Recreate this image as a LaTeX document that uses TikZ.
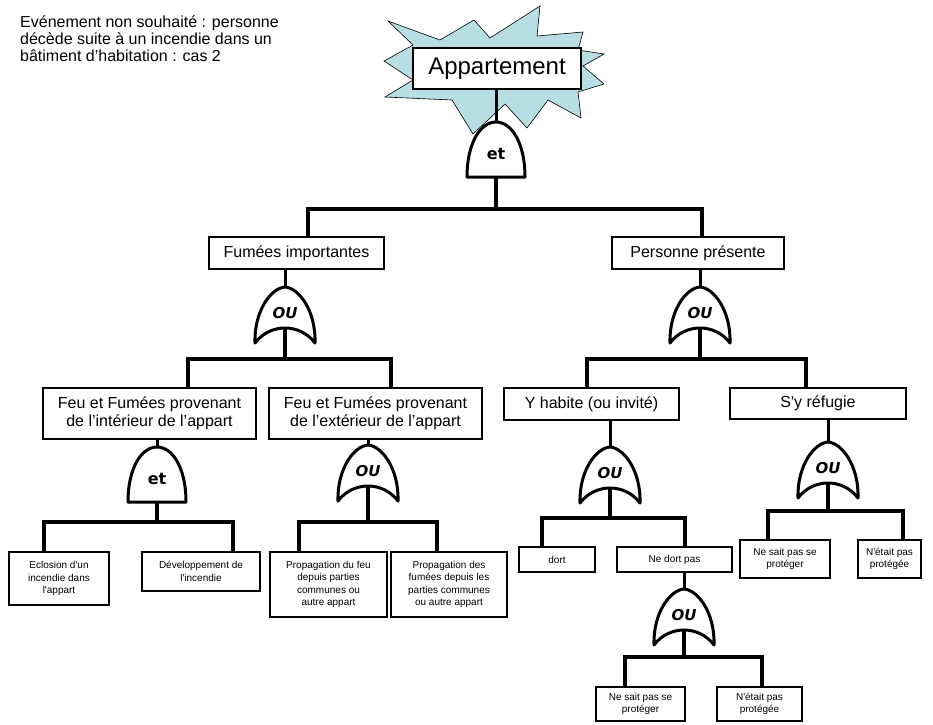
\documentclass[tikz,border=0pt]{standalone}
\usepackage{fontspec}
\setmainfont{Liberation Sans}
\newfontfamily\gatefont{DejaVu Sans}
\definecolor{burst}{RGB}{183,223,227}
\newcommand\apos{\textquotesingle}
\tikzset{
  box/.style={draw, line width=2pt, fill=white, align=center, inner sep=0pt,
              font=\fontsize{16}{18}\selectfont},
  leaf/.style={box, line width=1.8pt, font=\fontsize{10}{12.5}\selectfont},
  bus/.style={line width=4.8pt, line join=miter},
  link/.style={line width=3pt},
  gate/.style={draw, line width=3pt, fill=white, line join=round, line cap=round},
  gatetxt/.style={inner sep=0pt, font=\fontsize{15}{15}\selectfont\gatefont\bfseries\itshape},
  andtxt/.style={inner sep=0pt, font=\fontsize{16}{16}\selectfont\gatefont\bfseries},
  orgate/.pic={
    \path[gate] (-30,56) .. controls (-31,24) and (-14,1) .. (0,0)
                .. controls (14,1) and (31,24) .. (30,56)
                .. controls (15,36) and (-15,36) .. cycle;
    \node[gatetxt] at (0,26) {OU};
    \coordinate (-top) at (0,0);
    \coordinate (-out) at (0,41);
  },
  andgate/.pic={
    \path[gate] (-29,55) .. controls (-29,20) and (-15,0) .. (0,0)
                .. controls (15,0) and (29,20) .. (29,55) -- cycle;
    \node[andtxt] at (0,32) {et};
    \coordinate (-top) at (0,0);
    \coordinate (-out) at (0,55);
  }
}
\begin{document}
\begin{tikzpicture}[x=1pt,y=-1pt]
\useasboundingbox (0,0) rectangle (933,724);

% title of the undesired event
\node[anchor=north west, inner sep=0pt, align=left, font=\fontsize{16}{17}\selectfont]
  (titre) at (20,16) {Evénement non souhaité : personne\\décède suite à un incendie dans un\\bâtiment d’habitation : cas 2};

% starburst behind the top event
\path[draw=black, line width=0.6pt, fill=burst]
  (388,21) -- (440,40) -- (474,20) -- (490,38) -- (540,6) -- (537,36) -- (583,32)
  -- (578,50) -- (604,54) -- (583,66) -- (604,84) -- (578,92) -- (581,118)
  -- (548,100) -- (527,128) -- (505,104) -- (473,134) -- (452,100) -- (385,97)
  -- (413,80) -- (384,61) -- (413,45) -- cycle;

% events
\node[box, line width=2.4pt, minimum width=168, minimum height=41, font=\fontsize{24}{26}\selectfont] (appart) at (497,68.5) {Appartement};
\node[box, minimum width=175, minimum height=32] (fumees) at (296.5,253) {Fumées importantes};
\node[box, minimum width=172, minimum height=32] (personne) at (698,253) {Personne présente};
\node[box, minimum width=213, minimum height=51] (feuint) at (149.5,413.5) {Feu et Fumées provenant\\de l’intérieur de l’appart};
\node[box, minimum width=213, minimum height=51] (feuext) at (375.5,413.5) {Feu et Fumées provenant\\de l’extérieur de l’appart};
\node[box, minimum width=175, minimum height=32] (habite) at (591.5,404) {Y habite (ou invité)};
\node[box, minimum width=176, minimum height=31] (refugie) at (818,403.5) {S\apos y réfugie};
\node[leaf, minimum width=100, minimum height=53] (eclosion) at (59,578.5) {Eclosion d\apos un\\incendie dans\\l\apos appart};
\node[leaf, minimum width=118, minimum height=39] (develop) at (201,571.5) {Développement de\\l\apos incendie};
\node[leaf, minimum width=117, minimum height=65] (propfeu) at (328.5,584.5) {Propagation du feu\\depuis parties\\communes ou\\autre appart};
\node[leaf, minimum width=116, minimum height=65] (propfum) at (449,584.5) {Propagation des\\fumées depuis les\\parties communes\\ou autre appart};
\node[leaf, minimum width=76, minimum height=25] (dort) at (557,559.5) {dort};
\node[leaf, minimum width=115, minimum height=25] (nedort) at (674.5,559.5) {Ne dort pas};
\node[leaf, minimum width=90, minimum height=38] (nesaitA) at (785,559) {Ne sait pas se\\protéger};
\node[leaf, minimum width=63, minimum height=38] (netaitA) at (889.5,559) {N\apos était pas\\protégée};
\node[leaf, minimum width=89, minimum height=34] (nesaitB) at (640.5,704) {Ne sait pas se\\protéger};
\node[leaf, minimum width=85, minimum height=34] (netaitB) at (759.5,704) {N\apos était pas\\protégée};

% links from events down to their gates
\coordinate (t0) at (496,122);
\coordinate (t1) at (285,287);
\coordinate (t2) at (700,287);
\coordinate (t3) at (157,447);
\coordinate (t4) at (368,445);
\coordinate (t5) at (610,447);
\coordinate (t6) at (828,442);
\coordinate (t7) at (684,589);
\draw[link] (t0 |- appart.south) -- (t0);
\draw[link] (t1 |- fumees.south) -- (t1);
\draw[link] (t2 |- personne.south) -- (t2);
\draw[link] (t3 |- feuint.south) -- (t3);
\draw[link] (t4 |- feuext.south) -- (t4);
\draw[link] (t5 |- habite.south) -- (t5);
\draw[link] (t6 |- refugie.south) -- (t6);
\draw[link] (t7 |- nedort.south) -- (t7);

% bus junctions
\coordinate (b0) at (496,209);
\coordinate (b1) at (285,359);
\coordinate (b2) at (700,359);
\coordinate (b3) at (157,522);
\coordinate (b4) at (368,522);
\coordinate (b5) at (610,518);
\coordinate (b6) at (828,511);
\coordinate (b7) at (684,657);

% gates
\pic (g0) at (t0) {andgate};
\pic (g1) at (t1) {orgate};
\pic (g2) at (t2) {orgate};
\pic (g3) at (t3) {andgate};
\pic (g4) at (t4) {orgate};
\pic (g5) at (t5) {orgate};
\pic (g6) at (t6) {orgate};
\pic (g7) at (t7) {orgate};

% trunks from gates to buses
\draw[bus] (g0-out) -- (b0);
\draw[bus] (g1-out) -- (b1);
\draw[bus] (g2-out) -- (b2);
\draw[bus] (g3-out) -- (b3);
\draw[bus] (g4-out) -- (b4);
\draw[bus] (g5-out) -- (b5);
\draw[bus] (g6-out) -- (b6);
\draw[bus] (g7-out) -- (b7);

% buses dropping onto the input events
\draw[bus] ([xshift=11.5pt]fumees.north) |- (b0) -| ([xshift=4pt]personne.north);
\draw[bus] ([xshift=38.5pt]feuint.north) |- (b1) -| ([xshift=15.5pt]feuext.north);
\draw[bus] ([xshift=-4.5pt]habite.north) |- (b2) -| ([xshift=-12pt]refugie.north);
\draw[bus] ([xshift=-15pt]eclosion.north) |- (b3) -| ([xshift=32pt]develop.north);
\draw[bus] ([xshift=-29.5pt]propfeu.north) |- (b4) -| ([xshift=-12pt]propfum.north);
\draw[bus] ([xshift=-15pt]dort.north) |- (b5) -| ([xshift=10.5pt]nedort.north);
\draw[bus] ([xshift=-17pt]nesaitA.north) |- (b6) -| ([xshift=13.5pt]netaitA.north);
\draw[bus] ([xshift=-15.5pt]nesaitB.north) |- (b7) -| ([xshift=2.5pt]netaitB.north);
\end{tikzpicture}
\end{document}
